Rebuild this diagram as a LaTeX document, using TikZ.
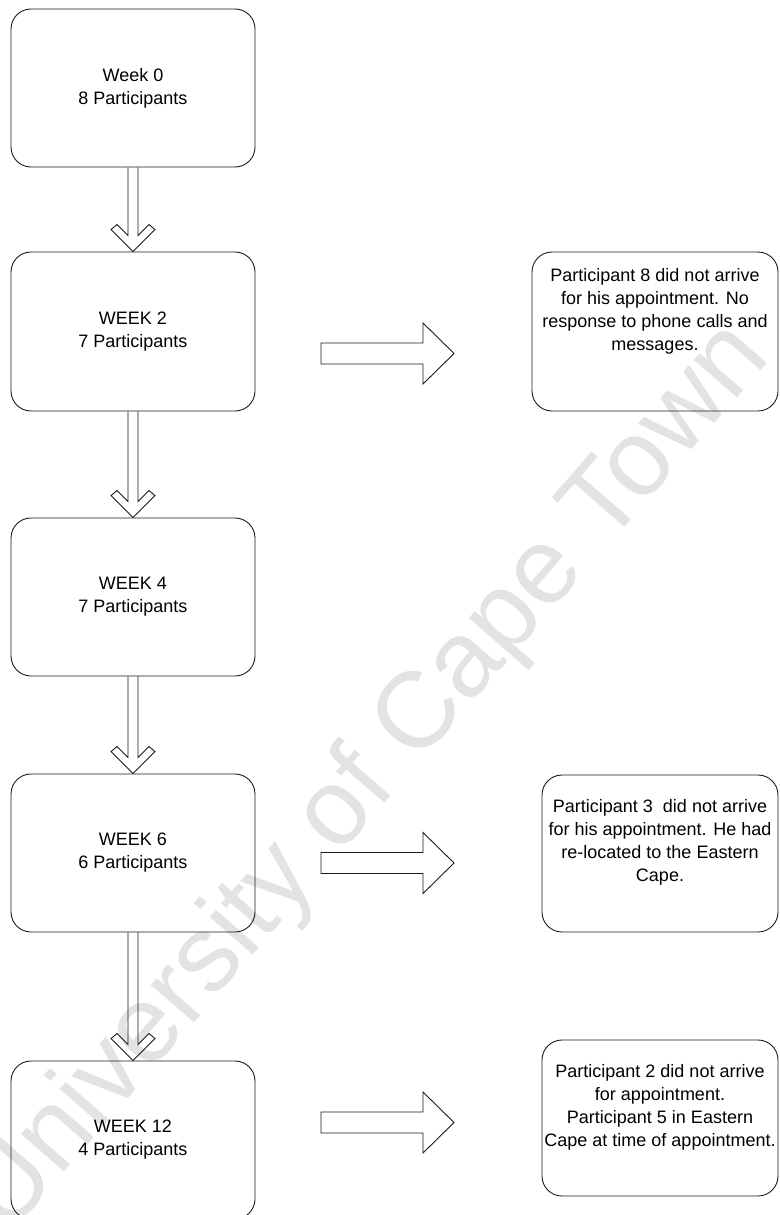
\documentclass[tikz,border=0pt]{standalone}
\usepackage{fontspec}
\setmainfont{Liberation Sans}
\usetikzlibrary{calc}
\definecolor{linec}{HTML}{1A1A1A}
\definecolor{wmark}{HTML}{E3E3E3}
\newcommand\bodyfont{\fontsize{18pt}{23pt}\selectfont}
% hollow down arrow from the bottom of one stage box to the top of the next
\newcommand\stagelink[2]{%
  \draw[blockarrow] ($(#1.south)+(-5,0)$) -- ($(#2.north)+(-5,-16)$)
    -- ($(#2.north)+(-16,-27)$) -- ($(#2.north)+(-22,-22)$) -- (#2.north)
    -- ($(#2.north)+(22,-22)$) -- ($(#2.north)+(16,-27)$)
    -- ($(#2.north)+(5,-16)$) -- ($(#1.south)+(5,0)$);}
\begin{document}
\begin{tikzpicture}[x=1pt,y=-1pt,
  outline/.style={draw=linec, line width=0.9pt},
  stage/.style={outline, rounded corners=20pt, minimum width=244pt,
    minimum height=158pt, inner sep=0pt, align=center, font=\bodyfont},
  notebox/.style={outline, rounded corners=20pt, inner sep=0pt},
  notetext/.style={align=center, font=\bodyfont, inner sep=0pt},
  blockarrow/.style={outline, line join=miter},
  sidearrow/.pic={\draw[blockarrow] (0,-10.5) -- (102,-10.5) -- (102,-30.5)
    -- (133,0) -- (102,30.5) -- (102,10.5) -- (0,10.5) -- cycle;}]
\useasboundingbox (0,0) rectangle (779,1215);
\clip (0,0) rectangle (779,1215);

% watermark
\node[font=\fontsize{108pt}{108pt}\selectfont, text=wmark, rotate=49,
  anchor=base, inner sep=0pt] (wm) at (390,797) {University of Cape Town};

% stages
\node[stage] (w0) at (133,88) {Week 0\\8 Participants};
\node[stage, minimum height=159pt] (w2) at (133,331.5) {WEEK 2\\7 Participants};
\node[stage] (w4) at (133,597) {WEEK 4\\7 Participants};
\node[stage] (w6) at (133,853) {WEEK 6\\6 Participants};
\node[stage] (w12) at (133,1140) {WEEK 12\\4 Participants};

\stagelink{w0}{w2}
\stagelink{w2}{w4}
\stagelink{w4}{w6}
\stagelink{w6}{w12}

% drop-out notes
\node[notebox, minimum width=246pt, minimum height=159pt] (n1) at (655,331.5) {};
\node[notetext] (t1) at (655,311) {Participant 8 did not arrive\\for his appointment. No\\response to phone calls and\\messages.};
\node[notebox, minimum width=236pt, minimum height=157pt] (n2) at (660,853.5) {};
\node[notetext] (t2) at (660,842) {Participant 3\ \ did not arrive\\for his appointment. He had\\re-located to the Eastern\\Cape.};
\node[notebox, minimum width=236pt, minimum height=156pt] (n3) at (660,1118) {};
\node[notetext] (t3) at (660,1107) {Participant 2 did not arrive\\for appointment.\\Participant 5 in Eastern\\Cape at time of appointment.};

\pic (a1) at (321,353.5) {sidearrow};
\pic (a2) at (321,863) {sidearrow};
\pic (a3) at (321,1122.5) {sidearrow};
\end{tikzpicture}
\end{document}
